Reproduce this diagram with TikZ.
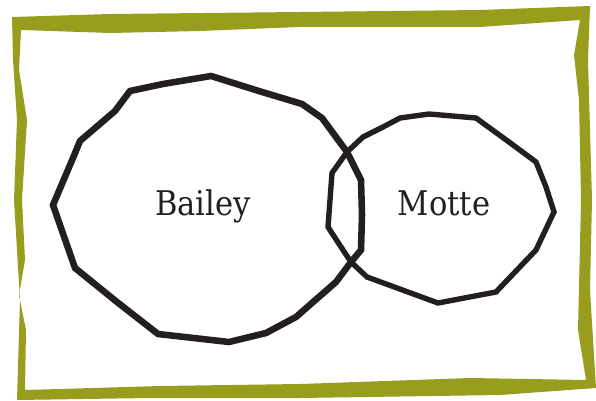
\documentclass[tikz,border=0pt]{standalone}
\usepackage{fontspec}
\setmainfont{DejaVu Serif}[FakeStretch=0.9]
\definecolor{olive}{RGB}{153,157,29}
\definecolor{ink}{RGB}{35,31,32}

\begin{document}
\begin{tikzpicture}[
    x=0.03cm, y=-0.03cm,
    frame/.style={fill=olive, even odd rule},
    wall/.style={draw=ink, line join=miter, miter limit=6},
    label/.style={font=\fontsize{29}{32}\selectfont, text=ink, anchor=base, inner sep=0pt}
]
    \useasboundingbox (0,0) rectangle (596,401);

    % Frame (outer and inner edge)
    \path [frame] (12,17) -- (110,14) -- (300,12) -- (480,10) -- (590,6) -- (588,60)
        -- (592,200) -- (590,290) -- (596,388) -- (500,395) -- (300,398) -- (150,398)
        -- (17,400) -- (20,300) -- (14,200) -- (17,120) -- (13,60) -- cycle
        (21,30) -- (110,33) -- (200,31) -- (300,27) -- (480,27) -- (580,20) -- (574,55)
        -- (579,100) -- (581,200) -- (578,330) -- (586,380) -- (470,378) -- (300,384)
        -- (160,386) -- (25,390) -- (26,330) -- (19,295) -- (25,260) -- (22,200)
        -- (27,120) -- (19,70) -- cycle;

    % Bailey
    \draw [wall, line width=5.6pt] (211,76) -- (262,92) -- (302,104) -- (322,118) -- (347,152)
        -- (361,180) -- (362,215) -- (361,250) -- (351,262) -- (336,282) -- (296,317)
        -- (266,333) -- (229,342) -- (158,334) -- (117,302) -- (75,268) -- (53,205)
        -- (73,158) -- (80,141) -- (115,111) -- (130,91) -- (163,84) -- cycle;

    % Motte
    \draw [wall, line width=4.6pt] (429,114) -- (476,118) -- (509,142) -- (536,162) -- (546,187)
        -- (554,212) -- (536,250) -- (496,292) -- (438,303) -- (367,277) -- (351,262)
        -- (343,250) -- (328,227) -- (330,200) -- (332,173) -- (347,152) -- (363,137)
        -- (383,127) -- (400,118) -- cycle;

    % Labels
    \node [label] (bailey) at (203,215) {Bailey};
    \node [label] (motte) at (444,215) {Motte};
\end{tikzpicture}
\end{document}
